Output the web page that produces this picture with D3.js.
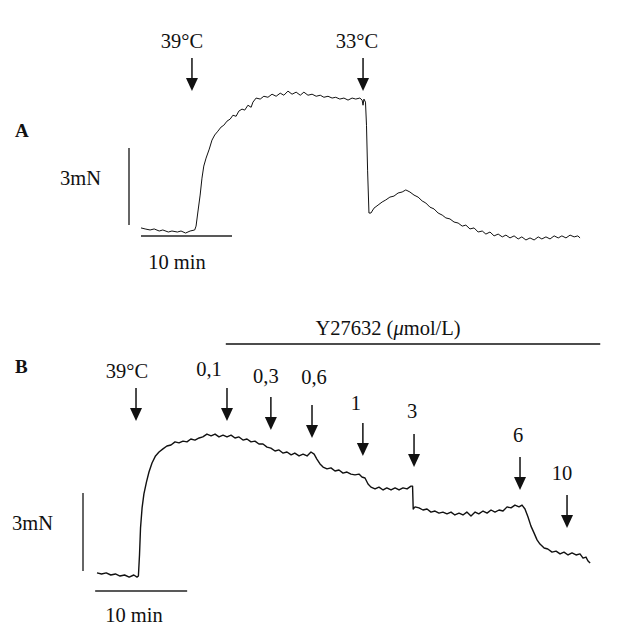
<!DOCTYPE html>
<html>
<head>
<meta charset="utf-8">
<script src="https://cdn.jsdelivr.net/npm/d3@7"></script>
<style>
  body { margin: 0; background: #fff; }
  svg { display: block; }
  text { font-family: "Liberation Serif", "Times New Roman", serif; fill: #111; }
</style>
</head>
<body>
<div id="main"></div>
<script>
// recording A: [time (min), force (mN above resting baseline)]
const traceA = [
  [0.0, 0.12], [0.45, 0.08], [1.0, 0.04], [1.45, 0.08], [2.0, 0.0], [2.4, 0.04], [3.0, -0.04],
  [3.4, 0.0], [4.0, -0.04], [4.4, 0.0], [4.9, -0.08], [5.4, 0.0], [5.9, 0.04], [6.05, 0.19],
  [6.25, 0.74], [6.5, 1.40], [6.7, 2.06], [6.9, 2.53], [7.15, 2.84], [7.5, 3.19], [7.8, 3.54],
  [8.1, 3.74], [8.45, 3.89], [8.8, 4.05], [9.1, 4.12], [9.45, 4.28], [9.8, 4.36], [10.1, 4.51],
  [10.45, 4.47], [10.75, 4.67], [11.1, 4.75], [11.4, 4.71], [11.75, 4.90], [12.1, 4.82],
  [12.3, 5.02], [12.65, 5.18], [13.1, 5.14], [13.5, 5.25], [13.95, 5.21], [14.4, 5.33],
  [14.85, 5.25], [15.3, 5.37], [15.7, 5.29], [16.15, 5.45], [16.6, 5.33], [17.05, 5.41],
  [17.5, 5.29], [17.9, 5.41], [18.35, 5.29], [18.8, 5.33], [19.25, 5.25], [19.7, 5.29],
  [20.1, 5.21], [20.55, 5.25], [21.0, 5.18], [21.4, 5.21], [21.85, 5.14], [22.3, 5.18],
  [22.75, 5.10], [23.2, 5.18], [23.6, 5.14], [24.05, 5.18], [24.3, 5.10], [24.4, 4.90],
  [24.5, 5.14], [24.67, 5.02], [24.78, 4.12], [24.9, 2.37], [25.05, 0.70], [25.27, 0.70],
  [25.6, 0.89], [26.05, 1.01], [26.5, 1.13], [26.9, 1.21], [27.35, 1.32], [27.8, 1.36],
  [28.25, 1.48], [28.7, 1.52], [29.1, 1.60], [29.55, 1.52], [30.0, 1.40], [30.45, 1.32],
  [30.9, 1.17], [31.3, 1.09], [31.75, 0.93], [32.2, 0.86], [32.65, 0.70], [33.1, 0.62],
  [33.5, 0.51], [33.95, 0.47], [34.4, 0.35], [34.85, 0.31], [35.3, 0.19], [35.7, 0.23],
  [36.15, 0.08], [36.6, 0.12], [37.05, -0.04], [37.5, 0.0], [37.9, -0.12], [38.35, -0.04],
  [38.8, -0.19], [39.25, -0.12], [39.7, -0.23], [40.1, -0.16], [40.55, -0.27], [41.0, -0.19],
  [41.45, -0.31], [41.85, -0.23], [42.3, -0.35], [42.75, -0.27], [43.2, -0.35], [43.65, -0.23],
  [44.05, -0.31], [44.5, -0.23], [44.95, -0.31], [45.4, -0.19], [45.85, -0.27], [46.25, -0.19],
  [46.7, -0.27], [47.15, -0.16], [47.6, -0.23], [48.0, -0.19], [48.25, -0.27]
];

// recording B
const traceB = [
  [0.0, 0.08], [0.5, 0.04], [1.0, 0.08], [1.5, 0.0], [2.0, 0.04], [2.5, -0.04], [3.0, 0.0],
  [3.5, -0.08], [4.0, 0.0], [4.35, -0.08], [4.5, -0.04], [4.62, 0.77], [4.73, 1.81], [4.9, 2.58],
  [5.1, 3.12], [5.38, 3.58], [5.65, 3.96], [5.98, 4.31], [6.36, 4.58], [6.74, 4.73], [7.17, 4.85],
  [7.6, 4.96], [8.04, 5.0], [8.48, 5.12], [8.91, 5.08], [9.35, 5.15], [9.78, 5.12], [10.2, 5.23],
  [10.65, 5.19], [11.1, 5.27], [11.5, 5.31], [11.95, 5.42], [12.4, 5.35], [12.83, 5.42],
  [13.26, 5.31], [13.7, 5.38], [14.13, 5.31], [14.57, 5.38], [15.0, 5.27], [15.43, 5.31],
  [15.87, 5.19], [16.3, 5.23], [16.74, 5.12], [17.17, 5.15], [17.6, 5.04], [18.04, 5.04],
  [18.48, 4.92], [18.9, 4.88], [19.35, 4.77], [19.78, 4.81], [20.2, 4.69], [20.65, 4.73],
  [21.1, 4.62], [21.5, 4.69], [21.96, 4.58], [22.4, 4.65], [22.83, 4.58], [23.26, 4.73],
  [23.6, 4.65], [23.9, 4.46], [24.24, 4.27], [24.57, 4.15], [25.0, 4.08], [25.43, 4.12],
  [25.87, 4.0], [26.3, 4.04], [26.74, 3.92], [27.17, 3.96], [27.6, 3.88], [28.04, 3.85],
  [28.48, 3.88], [28.8, 3.77], [29.13, 3.73], [29.46, 3.5], [29.78, 3.38], [30.22, 3.31],
  [30.65, 3.38], [31.1, 3.27], [31.5, 3.35], [31.96, 3.27], [32.4, 3.35], [32.83, 3.27],
  [33.26, 3.35], [33.7, 3.31], [34.13, 3.42], [34.3, 3.42], [34.37, 2.54], [34.57, 2.62],
  [35.0, 2.58], [35.43, 2.5], [35.87, 2.54], [36.3, 2.42], [36.74, 2.46], [37.17, 2.38],
  [37.6, 2.42], [38.04, 2.35], [38.48, 2.42], [38.9, 2.31], [39.35, 2.38], [39.78, 2.31],
  [40.2, 2.42], [40.65, 2.27], [41.1, 2.42], [41.5, 2.35], [41.96, 2.46], [42.4, 2.38],
  [42.83, 2.5], [43.26, 2.42], [43.7, 2.5], [44.13, 2.46], [44.57, 2.62], [45.0, 2.58],
  [45.43, 2.69], [45.87, 2.62], [46.2, 2.69], [46.52, 2.54], [46.85, 2.23], [47.17, 1.88],
  [47.5, 1.62], [47.83, 1.35], [48.15, 1.19], [48.6, 1.04], [49.0, 1.0], [49.46, 0.88],
  [49.9, 0.92], [50.33, 0.81], [50.76, 0.88], [51.2, 0.77], [51.63, 0.85], [52.07, 0.77],
  [52.5, 0.81], [52.83, 0.65], [53.15, 0.69], [53.37, 0.54], [53.6, 0.46]
];

// event markers (label, time in min)
const eventLabelsA = ["39°C", "33°C"];
const eventTimesA = [5.6, 24.4];
const eventLabelsB = ["39°C", "0,1", "0,3", "0,6", "1", "3", "6", "10"];
const eventTimesB = [4.24, 14.13, 18.9, 23.37, 28.9, 34.46, 45.98, 51.09];

// Y27632 application period (min)
const drugPeriodB = [14.0, 54.7];
const drugLabel = "Y27632 (";

// calibration bars
const scaleForce = 3;   // mN
const scaleTime = 10;   // min

// ---- layout ----
const width = 619, height = 633;
const fs = 20.5;
const svg = d3.select("#main").append("svg")
  .attr("width", width).attr("height", height);

const xA = d3.scaleLinear().domain([0, scaleTime]).range([141, 232]);
const yA = d3.scaleLinear().domain([0, scaleForce]).range([231, 154]);
const xB = d3.scaleLinear().domain([0, scaleTime]).range([97, 189]);
const yB = d3.scaleLinear().domain([0, scaleForce]).range([575, 497]);

const arrowA = {top: [58, 58], dx: [-10, -6], base: [48, 48]};
const arrowB = {
  top: [388, 388, 397, 405, 423, 434, 457, 495],
  base: [378, 376, 383, 384, 410, 418, 442, 480],
  dx: [-9, -18, -5, 2, -7, -2, -2, -5]
};
const arrowLen = 33, headW = 12, headH = 13;

function drawTrace(data, x, y, sw) {
  const line = d3.line().x(d => x(d[0])).y(d => y(d[1])).curve(d3.curveLinear);
  svg.append("path")
    .datum(data)
    .attr("fill", "none")
    .attr("stroke", "#111")
    .attr("stroke-width", sw)
    .attr("stroke-linejoin", "round")
    .attr("d", line);
}

function drawArrows(labels, times, x, lay) {
  const g = svg.append("g")
    .selectAll("g")
    .data(labels.map((l, i) => ({label: l, t: times[i], top: lay.top[i], base: lay.base[i], dx: lay.dx[i]})))
    .join("g");

  g.append("line")
    .attr("x1", d => x(d.t)).attr("x2", d => x(d.t))
    .attr("y1", d => d.top).attr("y2", d => d.top + arrowLen - headH + 1)
    .attr("stroke", "#111").attr("stroke-width", 1.5);

  g.append("path")
    .attr("fill", "#111")
    .attr("d", d => {
      const cx = x(d.t), b = d.top + arrowLen;
      return `M${cx - headW / 2},${b - headH}L${cx + headW / 2},${b - headH}L${cx},${b}Z`;
    });

  g.append("text")
    .attr("x", d => x(d.t) + d.dx)
    .attr("y", d => d.base)
    .attr("text-anchor", "middle")
    .attr("font-size", fs)
    .text(d => d.label);
}

function drawScaleBars(x, y, vx, v0, hy, h0, labelPos, minPos) {
  svg.append("line")
    .attr("x1", vx).attr("x2", vx)
    .attr("y1", y(v0)).attr("y2", y(v0 + scaleForce))
    .attr("stroke", "#333").attr("stroke-width", 1.5);
  svg.append("line")
    .attr("x1", x(h0)).attr("x2", x(h0 + scaleTime))
    .attr("y1", hy).attr("y2", hy)
    .attr("stroke", "#222").attr("stroke-width", 1.5);
  svg.append("text")
    .attr("x", labelPos[0]).attr("y", labelPos[1])
    .attr("font-size", fs)
    .text(scaleForce + "mN");
  svg.append("text")
    .attr("x", minPos[0]).attr("y", minPos[1])
    .attr("text-anchor", "middle")
    .attr("font-size", fs)
    .text(scaleTime + " min");
}

// ---- panel A ----
svg.append("text").attr("x", 15).attr("y", 137)
  .attr("font-size", 19).attr("font-weight", "bold").text("A");
drawTrace(traceA, xA, yA, 1);
drawArrows(eventLabelsA, eventTimesA, xA, arrowA);
drawScaleBars(xA, yA, 129, 0.23, 236, 0, [60, 185], [177, 269]);

// ---- panel B ----
svg.append("text").attr("x", 15).attr("y", 373)
  .attr("font-size", 19).attr("font-weight", "bold").text("B");
drawTrace(traceB, xB, yB, 1.4);
drawArrows(eventLabelsB, eventTimesB, xB, arrowB);
drawScaleBars(xB, yB, 83, 0.15, 591, -0.2, [12, 530], [134, 622]);

svg.append("line")
  .attr("x1", xB(drugPeriodB[0])).attr("x2", xB(drugPeriodB[1]))
  .attr("y1", 344).attr("y2", 344)
  .attr("stroke", "#111").attr("stroke-width", 1.3);

const drug = svg.append("text")
  .attr("x", 388).attr("y", 335)
  .attr("text-anchor", "middle")
  .attr("font-size", fs);
drug.append("tspan").text(drugLabel);
drug.append("tspan").attr("font-style", "italic").text("μ");
drug.append("tspan").text("mol/L)");
</script>
</body>
</html>
